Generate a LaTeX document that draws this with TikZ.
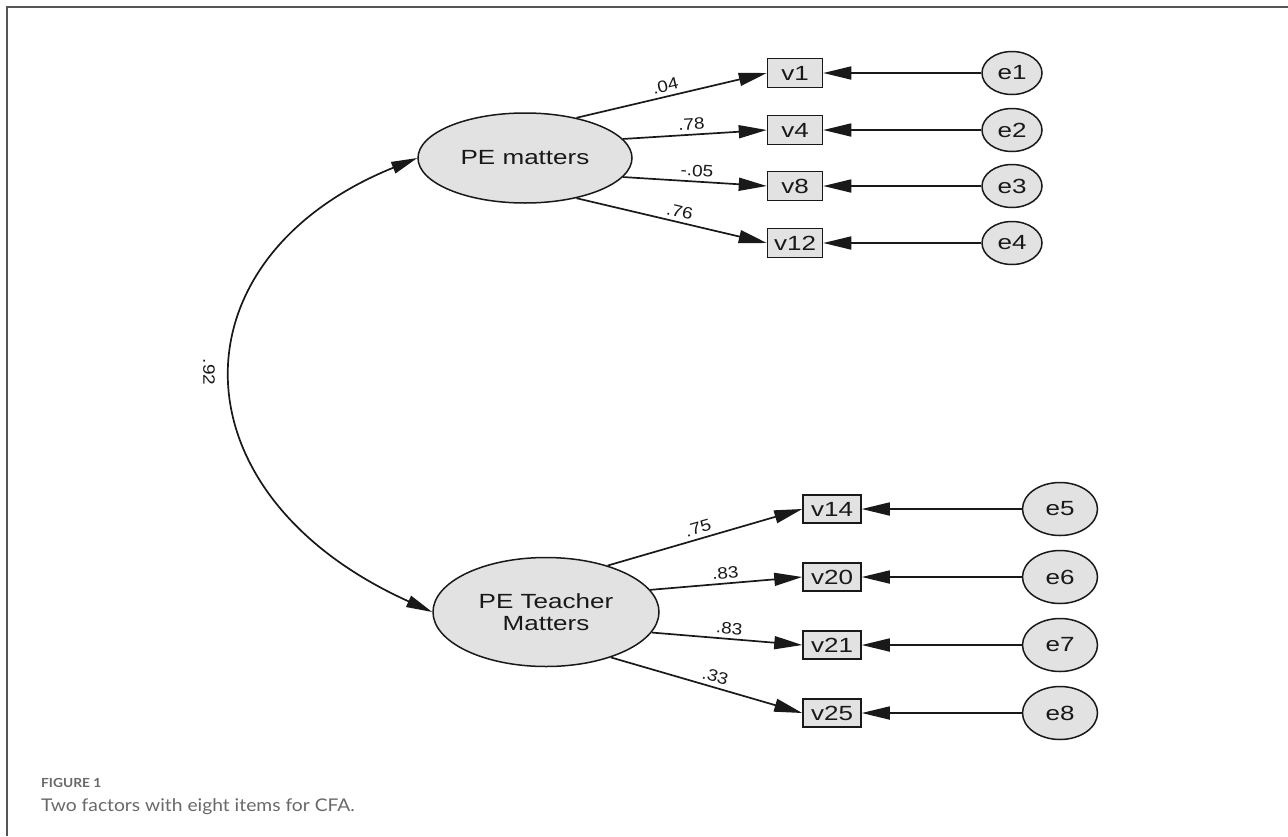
\documentclass[tikz,border=0pt]{standalone}
\usepackage{fontspec}
\setmainfont{Liberation Sans}
\newfontfamily\nodefont{Liberation Sans}[FakeStretch=1.27]
\newfontfamily\coeffont{Liberation Sans}[FakeStretch=1.15]
\newfontfamily\capfont{Lato}[FakeStretch=1.1]
\usetikzlibrary{arrows.meta,shapes.geometric}
\definecolor{nodefill}{RGB}{226,226,226}
\definecolor{framegray}{RGB}{85,85,85}
\definecolor{capgray}{RGB}{105,105,105}
\definecolor{inkc}{RGB}{25,25,25}
\begin{document}
\begin{tikzpicture}[x=1pt,y=-1pt,
  latent/.style={ellipse,draw=inkc,line width=1.5pt,fill=nodefill,inner sep=0pt,
    font=\nodefont\fontsize{20.5}{22}\selectfont,text=inkc,align=center},
  obs/.style={rectangle,draw=inkc,line width=1.5pt,fill=nodefill,inner sep=0pt,
    font=\nodefont\fontsize{20.5}{22}\selectfont,text=inkc},
  err/.style={ellipse,draw=inkc,line width=1.5pt,fill=nodefill,inner sep=0pt,
    font=\nodefont\fontsize{20.5}{22}\selectfont,text=inkc},
  tri/.style={-{Triangle[length=28pt,width=13pt]},line width=1.7pt,draw=inkc},
  dbl/.style={{Triangle[length=26pt,width=12pt]}-{Triangle[length=26pt,width=12pt]},line width=1.7pt,draw=inkc},
  coef/.style={font=\coeffont\fontsize{16.5}{18}\selectfont,sloped,above=3pt,inner sep=1pt,text=inkc}
]
\useasboundingbox (0,0) rectangle (1288,836);
\fill[white] (0,0) rectangle (1288,836);
% frame
\draw[framegray,line width=1.5pt] (7,836) -- (7,7) -- (1288,7);

% latent factors
\node[latent,minimum width=214pt,minimum height=90pt] (pem) at (525,158) {PE matters};
\node[latent,minimum width=226pt,minimum height=109pt] (pet) at (546,612) {PE Teacher\\Matters};

% observed (top)
\foreach \n/\y in {v1/73,v4/130,v8/186,v12/243}{
  \node[obs,minimum width=55pt,minimum height=29pt] (\n) at (795,\y) {\n};
}
\foreach \n/\y in {e1/73,e2/130,e3/186,e4/243}{
  \node[err,minimum width=60pt,minimum height=43pt] (\n) at (1012,\y) {\n};
}
% observed (bottom)
\foreach \n/\y in {v14/509,v20/577,v21/645,v25/713}{
  \node[obs,minimum width=58pt,minimum height=28pt] (\n) at (832,\y) {\n};
}
\foreach \n/\y in {e5/509,e6/577,e7/645,e8/713}{
  \node[err,minimum width=75pt,minimum height=53pt] (\n) at (1060,\y) {\n};
}

% error arrows
\foreach \e/\v in {e1/v1,e2/v4,e3/v8,e4/v12,e5/v14,e6/v20,e7/v21,e8/v25}{
  \draw[tri] (\e.west) -- (\v.east);
}

% loadings top
\draw[tri] (pem.38.7) -- node[coef,pos=.48]{.04} (v1.west);
\draw[tri] (pem.11.5) -- node[coef,pos=.48]{.78} (v4.west);
\draw[tri] (pem.-11.5) -- node[coef,pos=.51]{-.05} (v8.west);
\draw[tri] (pem.-38.7) -- node[coef,pos=.53]{.76} (v12.west);

% loadings bottom
\draw[tri] (pet.37.2) -- node[coef,pos=.48]{.75} (v14.west);
\draw[tri] (pet.12.8) -- node[coef,pos=.5]{.83} (v20.west);
\draw[tri] (pet.-11.7) -- node[coef,pos=.51]{.83} (v21.west);
\draw[tri] (pet.-35.7) -- node[coef,pos=.53]{.33} (v25.west);

% covariance
\draw[dbl] (pem.west) .. controls (170,258) and (170,494) .. (pet.west);
\node[font=\coeffont\fontsize{16.5}{18}\selectfont,text=inkc,rotate=-90,inner sep=1pt] (r92) at (209,372) {.92};

% caption
\node[anchor=base west,inner sep=0pt,text=capgray,font=\capfont\bfseries\fontsize{12.5}{14}\selectfont] (fig) at (41,787) {FIGURE 1};
\node[anchor=base west,inner sep=0pt,text=capgray,font=\capfont\fontsize{17.5}{20}\selectfont] (cap) at (41,811) {Two factors with eight items for CFA.};
\end{tikzpicture}
\end{document}
